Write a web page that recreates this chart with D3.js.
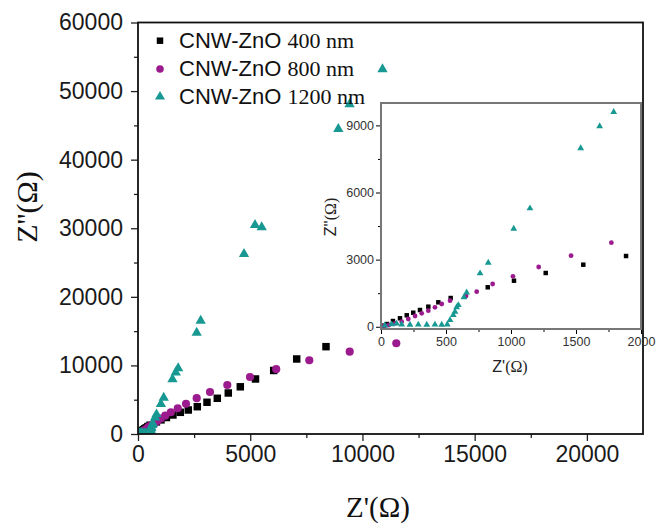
<!DOCTYPE html>
<html><head><meta charset="utf-8">
<script src="https://cdn.jsdelivr.net/npm/d3@7"></script>
<style>body{margin:0;background:#fff}svg{display:block}</style>
</head><body>
<svg id="c" width="656" height="524"></svg>
<script>
// ---- data (Z' , Z'' in ohm) ----
const legendPrefix = ["CNW-ZnO", "CNW-ZnO", "CNW-ZnO"];
const legendSuffix = ["400 nm", "800 nm", "1200 nm"];

const re400 = [20, 46, 92, 146, 198, 248, 300, 364, 441, 536, 821, 1023, 1267, 1556, 1885, 2241, 2642, 3074, 3533, 4023, 4558, 5235, 6046, 7071, 8376];
const im400 = [50, 123, 257, 378, 512, 628, 749, 897, 1093, 1285, 1764, 2059, 2403, 2774, 3162, 3501, 3982, 4624, 5207, 5980, 6884, 8022, 9262, 10939, 12733];

const re800 = [5, 30, 60, 108, 159, 210, 262, 313, 364, 415, 467, 531, 654, 736, 859, 1015, 1213, 1462, 1772, 2139, 2615, 3208, 3979, 4990, 6158, 7632, 9432, 11508];
const im800 = [30, 45, 70, 155, 226, 347, 481, 602, 718, 870, 1017, 1165, 1375, 1567, 1911, 2255, 2671, 3176, 3757, 4419, 5222, 6126, 7147, 8314, 9452, 10750, 12004, 13229];

const re1200 = [30, 82, 120, 159, 223, 287, 352, 415, 467, 510, 531, 556, 569, 582, 595, 638, 659, 762, 825, 1021, 1146, 1536, 1682, 1790, 2615, 2793, 4723, 5213, 5511, 8924, 9428, 10894];
const im1200 = [60, 110, 140, 100, 90, 95, 90, 95, 90, 100, 300, 520, 670, 870, 970, 1317, 1530, 2389, 2863, 4382, 5294, 7976, 8959, 9598, 14775, 16526, 26254, 30484, 30149, 44486, 48089, 53194];

const xTicksMain = [0, 5000, 10000, 15000, 20000];
const yTicksMain = [0, 10000, 20000, 30000, 40000, 50000, 60000];
const xTicksInset = [0, 500, 1000, 1500, 2000];
const yTicksInset = [0, 3000, 6000, 9000];

const colors = ["#000000", "#9b1b8e", "#189892"];
const shapes = [d3.symbolSquare, d3.symbolCircle, d3.symbolTriangle];

const series = [
  {re: re400, im: im400},
  {re: re800, im: im800},
  {re: re1200, im: im1200}
].map((s, i) => ({pts: s.re.map((v, j) => [v, s.im[j]]), color: colors[i], shape: shapes[i]}));

const svg = d3.select("#c");
const SANS = "'Liberation Sans', Arial, sans-serif";
const SERIF = "'Liberation Serif', 'Times New Roman', serif";

// ---- main plot ----
const M = {l: 138, r: 643, t: 22.5, b: 434};
const x = d3.scaleLinear().domain([0, 22500]).range([M.l, M.r]);
const y = d3.scaleLinear().domain([0, 60000]).range([M.b, M.t]);

svg.append("defs").append("clipPath").attr("id", "mainclip")
  .append("rect").attr("x", M.l).attr("y", M.t).attr("width", M.r - M.l).attr("height", M.b - M.t);

const gx = svg.append("g").attr("transform", `translate(0,${M.b})`)
  .call(d3.axisBottom(x).tickValues(xTicksMain).tickFormat(d3.format("d")).tickSize(7).tickPadding(5));
svg.append("g").attr("transform", `translate(0,${M.b})`)
  .call(d3.axisBottom(x).tickValues(d3.range(2500, 22500, 5000)).tickFormat("").tickSize(4))
  .call(g => g.select(".domain").remove());
const gy = svg.append("g").attr("transform", `translate(${M.l},0)`)
  .call(d3.axisLeft(y).tickValues(yTicksMain).tickFormat(d3.format("d")).tickSize(7).tickPadding(8));
svg.append("g").attr("transform", `translate(${M.l},0)`)
  .call(d3.axisLeft(y).tickValues(d3.range(5000, 60000, 10000)).tickFormat("").tickSize(4))
  .call(g => g.select(".domain").remove());
[gx, gy].forEach(g => {
  g.select(".domain").remove();
  g.selectAll("text").attr("font-family", SANS).attr("font-size", 23).attr("fill", "#1a1a1a");
});
svg.selectAll(".tick line").attr("stroke", "#222").attr("stroke-width", 1.3);

const mainPts = svg.append("g").attr("clip-path", "url(#mainclip)");
series.forEach(s => {
  const sz = s.shape === d3.symbolTriangle ? 46 : (s.shape === d3.symbolCircle ? 52 : 56);
  mainPts.selectAll(null).data(s.pts).enter().append("path")
    .attr("d", d3.symbol(s.shape, sz))
    .attr("transform", d => `translate(${x(d[0])},${y(d[1])})`)
    .attr("fill", s.color);
});

svg.append("rect").attr("x", M.l).attr("y", M.t).attr("width", M.r - M.l).attr("height", M.b - M.t)
  .attr("fill", "none").attr("stroke", "#111").attr("stroke-width", 1.8);

// main axis titles
svg.append("text").attr("x", 378).attr("y", 517).attr("text-anchor", "middle")
  .attr("font-family", SERIF).attr("font-size", 29).attr("fill", "#111").text("Z'(Ω)");
svg.append("text").attr("transform", "translate(37,207) rotate(-90)").attr("text-anchor", "middle")
  .attr("font-family", SERIF).attr("font-size", 30).attr("fill", "#111").text("Z''(Ω)");

// legend
const lg = svg.append("g");
const legY = [40.7, 69, 96.7];
series.forEach((s, i) => {
  const sz = s.shape === d3.symbolTriangle ? 44 : (s.shape === d3.symbolCircle ? 45 : 42);
  lg.append("path").attr("d", d3.symbol(s.shape, sz))
    .attr("transform", `translate(160,${legY[i]})`).attr("fill", s.color);
  const t = lg.append("text").attr("x", 179).attr("y", legY[i] + 7).attr("font-size", 22).attr("fill", "#111");
  t.append("tspan").attr("font-family", SANS).text(legendPrefix[i] + " ");
  t.append("tspan").attr("font-family", SERIF).text(legendSuffix[i]);
});

// ---- inset ----
const I = {l: 381, r: 641, t: 103, b: 329};
const xi = d3.scaleLinear().domain([0, 2000]).range([I.l, I.r]);
const yi = d3.scaleLinear().domain([-100, 10000]).range([I.b, I.t]);

svg.append("rect").attr("x", I.l).attr("y", I.t).attr("width", I.r - I.l).attr("height", I.b - I.t)
  .attr("fill", "#fff");
svg.select("defs").append("clipPath").attr("id", "insetclip")
  .append("rect").attr("x", I.l).attr("y", I.t).attr("width", I.r - I.l).attr("height", I.b - I.t);

const gxi = svg.append("g").attr("transform", `translate(0,${I.b})`)
  .call(d3.axisBottom(xi).tickValues(xTicksInset).tickFormat(d3.format("d")).tickSize(5).tickPadding(3));
svg.append("g").attr("transform", `translate(0,${I.b})`)
  .call(d3.axisBottom(xi).tickValues(d3.range(250, 2000, 500)).tickFormat("").tickSize(3))
  .call(g => g.select(".domain").remove());
const gyi = svg.append("g").attr("transform", `translate(${I.l},0)`)
  .call(d3.axisLeft(yi).tickValues(yTicksInset).tickFormat(d3.format("d")).tickSize(5).tickPadding(2));
svg.append("g").attr("transform", `translate(${I.l},0)`)
  .call(d3.axisLeft(yi).tickValues(d3.range(1500, 10000, 3000)).tickFormat("").tickSize(3))
  .call(g => g.select(".domain").remove());
[gxi, gyi].forEach(g => {
  g.select(".domain").remove();
  g.selectAll("text").attr("font-family", SANS).attr("font-size", 12.5).attr("fill", "#333");
});

const insetPts = svg.append("g").attr("clip-path", "url(#insetclip)");
series.forEach(s => {
  const sz = s.shape === d3.symbolTriangle ? 20 : (s.shape === d3.symbolCircle ? 18 : 20);
  insetPts.selectAll(null).data(s.pts.filter(d => d[0] <= 2000 && d[1] <= 10000)).enter().append("path")
    .attr("d", d3.symbol(s.shape, sz))
    .attr("transform", d => `translate(${xi(d[0])},${yi(d[1])})`)
    .attr("fill", s.color);
});

svg.append("rect").attr("x", I.l).attr("y", I.t).attr("width", I.r - I.l).attr("height", I.b - I.t)
  .attr("fill", "none").attr("stroke", "#777").attr("stroke-width", 2);

const ixl = svg.append("text").attr("x", 510).attr("y", 372).attr("text-anchor", "middle")
  .attr("font-size", 16).attr("fill", "#222");
ixl.append("tspan").attr("font-family", SANS).text("Z'");
ixl.append("tspan").attr("font-family", SERIF).text("(Ω)");
const iyl = svg.append("text").attr("transform", "translate(336,217) rotate(-90)").attr("text-anchor", "middle")
  .attr("font-size", 16).attr("fill", "#222");
iyl.append("tspan").attr("font-family", SANS).text("Z''");
iyl.append("tspan").attr("font-family", SERIF).text("(Ω)");
</script>
</body></html>
